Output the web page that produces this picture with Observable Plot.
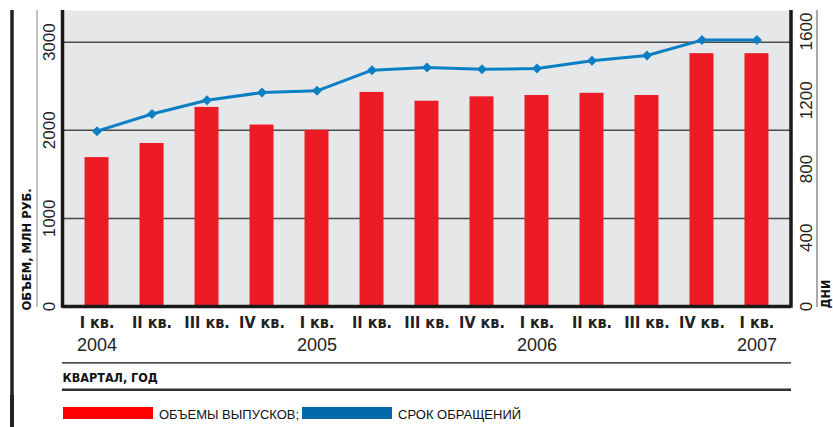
<!DOCTYPE html>
<html><head><meta charset="utf-8">
<script src="https://cdn.jsdelivr.net/npm/d3@7"></script>
<script src="https://cdn.jsdelivr.net/npm/@observablehq/plot@0.6"></script>
<style>
body{margin:0;background:#fff;}
#wrap{position:relative;width:833px;height:427px;overflow:hidden;background:#fff;}
#legend{position:relative;width:833px;height:32px;font-family:"Liberation Sans",Arial,sans-serif;font-size:13px;color:#111;}
#legend .sw{position:absolute;top:12px;width:90px;height:12px;}
#legend .lb{position:absolute;top:13px;line-height:13px;white-space:nowrap;}
#legend .vl{position:absolute;left:10.25px;top:0;width:3.5px;height:32px;background:#222;}
</style></head><body><div id="wrap"></div>
<script>
const periods = ["2004 I","2004 II","2004 III","2004 IV","2005 I","2005 II","2005 III","2005 IV","2006 I","2006 II","2006 III","2006 IV","2007 I"];
const quarterLabels = ["I кв.","II кв.","III кв.","IV кв.","I кв.","II кв.","III кв.","IV кв.","I кв.","II кв.","III кв.","IV кв.","I кв."];
const yearLabels = ["2004","","","","2005","","","","2006","","","","2007"];
const volumes = [1690,1850,2260,2060,2000,2430,2330,2380,2395,2420,2395,2870,2870];
const terms = [1020,1120,1200,1245,1255,1375,1390,1380,1385,1430,1460,1550,1550];
const leftTicks = [0,1000,2000,3000];
const rightTicks = [0,400,800,1200,1600];
const rightFactor = 1.951; // right-axis units -> left-axis units
const leftTitle = "ОБЪЕМ, МЛН РУБ.";
const rightTitle = "ДНИ";
const xTitle = "КВАРТАЛ, ГОД";
const legendLabels = ["ОБЪЕМЫ ВЫПУСКОВ;","СРОК ОБРАЩЕНИЙ"];
const legendColors = ["#ff0000","#0069a8"];

const red = "#ed1c24", blue = "#0a7fc3";
const cond = '"Liberation Sans Narrow","DejaVu Sans Condensed","Arial Narrow",sans-serif';
const reg = '"Liberation Sans",Arial,sans-serif';

const rows = periods.map((p,i)=>({period:p, q:quarterLabels[i], year:yearLabels[i], volume:volumes[i], term:terms[i]}));

const plot = Plot.plot({
  width:833, height:395, marginTop:10, marginBottom:89, marginLeft:62, marginRight:42,
  style:{background:"#fff", overflow:"visible", fontFamily:reg},
  x:{type:"band", domain:periods, paddingInner:0.564, paddingOuter:0.41, round:false, axis:null},
  y:{domain:[0,3360], axis:null},
  marks:[
    Plot.frame({fill:"#e6e7e8", stroke:null}),
    Plot.ruleY(leftTicks.filter(d=>d>0), {stroke:"#4a4a4a", strokeWidth:1.5}),
    Plot.barY(rows, {x:"period", y:"volume", fill:red}),
    Plot.line(rows, {x:"period", y:d=>d.term*rightFactor, stroke:blue, strokeWidth:3}),
    Plot.dot(rows, {x:"period", y:d=>d.term*rightFactor, symbol:"diamond2", r:4.5, fill:blue, stroke:null}),
    Plot.ruleY([0], {stroke:"#1a1a1a", strokeWidth:3.5}),
    Plot.ruleY([0], {stroke:"#111", strokeWidth:1.3, dy:56.3}),
    Plot.ruleY([0], {stroke:"#333", strokeWidth:2.6, dy:83.3}),
    Plot.text(leftTicks, {y:d=>d, text:d=>String(d), frameAnchor:"left", dx:-12.5, rotate:-90, fontSize:17, textAnchor:"middle", lineAnchor:"middle", fill:"#222", fontFamily:reg}),
    Plot.text(rightTicks, {y:d=>d*rightFactor, text:d=>String(d), frameAnchor:"right", dx:15.5, rotate:-90, fontSize:17, textAnchor:"middle", lineAnchor:"middle", fill:"#222", fontFamily:reg}),
    Plot.text(rows, {x:"period", text:"q", frameAnchor:"bottom", dy:16.5, fontSize:16, fontWeight:"bold", lineAnchor:"middle", fill:"#222", fontFamily:cond}),
    Plot.text(rows, {x:"period", text:"year", frameAnchor:"bottom", dy:39, fontSize:18, lineAnchor:"middle", fill:"#222", fontFamily:reg}),
    Plot.text([xTitle], {text:d=>d, frameAnchor:"bottom-left", dy:71, dx:0, textAnchor:"start", lineAnchor:"middle", fontSize:12.5, fontWeight:"bold", fill:"#111", fontFamily:cond}),
    Plot.text([leftTitle], {text:d=>d, frameAnchor:"bottom-left", dx:-35.5, dy:4, rotate:-90, textAnchor:"start", lineAnchor:"middle", fontSize:12.8, fontWeight:"bold", fill:"#111", fontFamily:cond}),
    Plot.text([rightTitle], {text:d=>d, frameAnchor:"bottom-right", dx:34.5, dy:2, rotate:-90, textAnchor:"start", lineAnchor:"middle", fontSize:12.5, fontWeight:"bold", fill:"#111", fontFamily:cond})
  ]
});

// decorative vertical rules derived from the frame
const [x0, x1] = plot.scale("x").range;
const [yb, yt] = plot.scale("y").range;
const svg = d3.select(plot);
const vlines = [
  {x:x0+0.5, y1:yt, y2:yb+1.7, w:3.5, c:"#1a1a1a"},
  {x:x1, y1:yt, y2:yb+1.7, w:3.5, c:"#1a1a1a"},
  {x:12, y1:yt, y2:395, w:3.5, c:"#222"},
  {x:37, y1:yt, y2:yb+1, w:1, c:"#888"},
  {x:817, y1:yt, y2:yb+1, w:1, c:"#555"}
];
svg.append("g").selectAll("line").data(vlines).join("line")
  .attr("x1",d=>d.x).attr("x2",d=>d.x).attr("y1",d=>d.y1).attr("y2",d=>d.y2)
  .attr("stroke",d=>d.c).attr("stroke-width",d=>d.w);

const wrap = document.getElementById("wrap");
wrap.appendChild(plot);

const legend = document.createElement("div");
legend.id = "legend";
const vl = document.createElement("div"); vl.className="vl"; legend.appendChild(vl);
const pos = [{sw:63, lb:159},{sw:302, lb:398}];
legendLabels.forEach((t,i)=>{
  const s = document.createElement("div"); s.className="sw"; s.style.left=pos[i].sw+"px"; s.style.background=legendColors[i]; legend.appendChild(s);
  const l = document.createElement("div"); l.className="lb"; l.style.left=pos[i].lb+"px"; l.textContent=t; legend.appendChild(l);
});
wrap.appendChild(legend);
</script></body></html>
